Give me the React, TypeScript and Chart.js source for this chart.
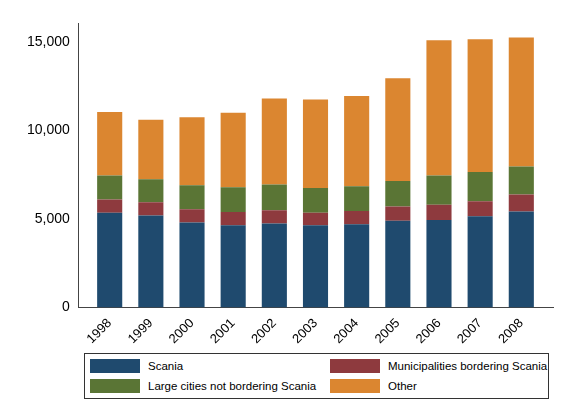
import React, { useEffect, useRef } from 'react';
import { Chart, registerables } from 'chart.js';

Chart.register(...registerables);

const years = ['1998', '1999', '2000', '2001', '2002', '2003', '2004', '2005', '2006', '2007', '2008'];
const scania = [5350, 5200, 4800, 4650, 4750, 4650, 4700, 4900, 4950, 5150, 5420];
const bordering = [750, 750, 750, 750, 750, 700, 750, 800, 850, 850, 960];
const largeCities = [1350, 1300, 1350, 1400, 1450, 1400, 1400, 1450, 1650, 1650, 1590];
const other = [3600, 3350, 3850, 4200, 4850, 5000, 5100, 5800, 7650, 7500, 7280];

const series = [
  { label: 'Scania', data: scania, color: '#1f4a6e' },
  { label: 'Municipalities bordering Scania', data: bordering, color: '#8e3a3e' },
  { label: 'Large cities not bordering Scania', data: largeCities, color: '#5a7535' },
  { label: 'Other', data: other, color: '#db8630' },
];

const font = 'Helvetica, "Liberation Sans", Arial, sans-serif';

const App = () => {
  const canvasRef = useRef<HTMLCanvasElement>(null);

  useEffect(() => {
    if (!canvasRef.current) return;
    document.body.style.margin = '0';
    const chart = new Chart(canvasRef.current, {
      type: 'bar',
      data: {
        datasets: series.map((s) => ({
          label: s.label,
          data: s.data.map((v, i) => ({ x: i, y: v })),
          backgroundColor: s.color,
          borderWidth: 0,
          categoryPercentage: 1,
          barPercentage: 0.61,
        })),
      },
      options: {
        animation: false,
        responsive: false,
        layout: { padding: { top: 23, right: 10, left: 24 } },
        plugins: { legend: { display: false }, tooltip: { enabled: false } },
        scales: {
          x: {
            type: 'linear',
            stacked: true,
            offset: false,
            min: -0.75,
            max: 10.77,
            afterBuildTicks: (axis: any) => {
              axis.ticks = years.map((_, i) => ({ value: i }));
            },
            grid: { display: false, tickLength: 5 },
            border: { color: '#444' },
            ticks: {
              color: '#000', font: { family: font, size: 13 }, maxRotation: 45, minRotation: 45, autoSkip: false,
              callback: (v: any) => years[Math.round(Number(v))],
            },
          },
          y: {
            stacked: true,
            min: 0,
            max: 16070,
            afterBuildTicks: (axis: any) => {
              axis.ticks = [0, 5000, 10000, 15000].map((v) => ({ value: v }));
            },
            grid: { display: false, tickLength: 6 },
            border: { color: '#444' },
            ticks: { color: '#000', font: { family: font, size: 14 }, callback: (v: any) => Number(v).toLocaleString('en-US') },
          },
        },
      },
    });
    return () => chart.destroy();
  }, []);

  return (
    <div style={{ position: 'relative', width: 563, height: 414, background: '#fff', fontFamily: font }}>
      <canvas ref={canvasRef} width={563} height={350} />
      <div
        style={{
          position: 'absolute', left: 84, top: 353, width: 465, height: 46, border: '1px solid #333',
          boxSizing: 'border-box', display: 'grid', gridTemplateColumns: '240px 1fr', padding: '5px 5px', rowGap: 5, fontSize: 11.5,
        }}
      >
        {series.map((s) => (
          <div key={s.label} style={{ display: 'flex', alignItems: 'center', height: 14, whiteSpace: 'nowrap' }}>
            <span style={{ display: 'inline-block', flex: 'none', width: 50, height: 14, background: s.color, marginRight: 8 }} />
            {s.label}
          </div>
        ))}
      </div>
    </div>
  );
};

export default App;
